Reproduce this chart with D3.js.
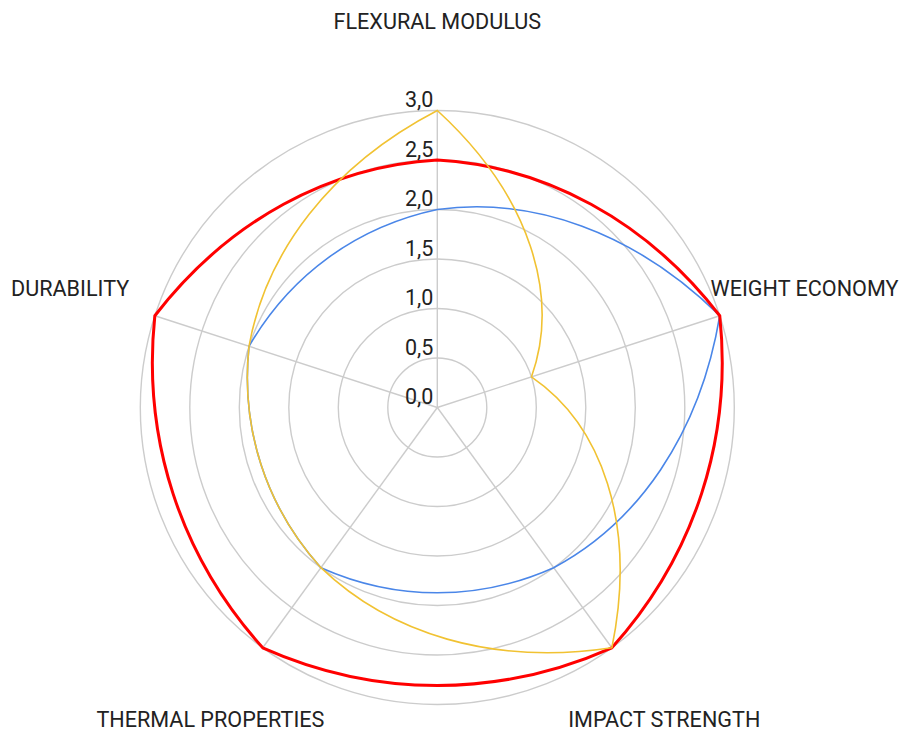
<!DOCTYPE html>
<html>
<head>
<meta charset="utf-8">
<script src="https://cdn.jsdelivr.net/npm/d3@7"></script>
<style>
  body { margin: 0; background: #fff; }
  svg { display: block; }
  text { font-family: Roboto, "Noto Sans", sans-serif; fill: #222; }
</style>
</head>
<body>
<svg id="chart" width="913" height="731"></svg>
<script>
const axes = ["FLEXURAL MODULUS", "WEIGHT ECONOMY", "IMPACT STRENGTH", "THERMAL PROPERTIES", "DURABILITY"]
const ticks = [0, 0.5, 1, 1.5, 2, 2.5, 3]
const blueValues = [2, 3, 2, 2, 2]
const redValues = [2.5, 3, 3, 3, 3]
const yellowValues = [3, 1, 3, 2, 2]

const series = [
  {name: "blue", values: blueValues, color: "#4a86e8", width: 1.6},
  {name: "red", values: redValues, color: "#ff0000", width: 3},
  {name: "yellow", values: yellowValues, color: "#f1c232", width: 1.6}
]

const width = 913, height = 731
const cx = 437.3, cy = 407.5
const R = 297

const svg = d3.select("svg#chart")
const g = svg.append("g").attr("transform", `translate(${cx},${cy})`)

const r = d3.scaleLinear().domain([0, 3]).range([0, R])
const angle = d3.scaleLinear().domain([0, axes.length]).range([0, 2 * Math.PI])
const step = angle(1) - angle(0)

const locale = d3.formatLocale({decimal: ",", thousands: ".", grouping: [3], currency: ["", "€"]})
const fmt = locale.format(".1f")

const pt = (a, rad) => [rad * Math.sin(a), -rad * Math.cos(a)]

// grid circles
g.append("g")
    .attr("fill", "none")
    .attr("stroke", "#cccccc")
    .attr("stroke-width", 1.4)
  .selectAll("circle")
  .data(ticks.filter(d => d > 0))
  .join("circle")
    .attr("r", d => r(d))

// spokes
g.append("g")
    .attr("stroke", "#cccccc")
    .attr("stroke-width", 1.4)
  .selectAll("line")
  .data(axes)
  .join("line")
    .attr("x1", 0).attr("y1", 0)
    .attr("x2", (d, i) => pt(angle(i), R)[0])
    .attr("y2", (d, i) => pt(angle(i), R)[1])

// each segment is a cubic whose control points sit on the polar interpolation
function polarPath(values) {
  const p = d3.path()
  const n = values.length
  for (let i = 0; i < n; i++) {
    const a1 = angle(i)
    const r1 = r(values[i]), r2 = r(values[(i + 1) % n])
    const p1 = pt(a1, r1)
    const c1 = pt(a1 + step / 3, r1 + (r2 - r1) / 3)
    const c2 = pt(a1 + 2 * step / 3, r1 + 2 * (r2 - r1) / 3)
    const p2 = pt(a1 + step, r2)
    if (i === 0) p.moveTo(p1[0], p1[1])
    p.bezierCurveTo(c1[0], c1[1], c2[0], c2[1], p2[0], p2[1])
  }
  p.closePath()
  return p.toString()
}

g.append("g")
    .attr("fill", "none")
  .selectAll("path")
  .data(series)
  .join("path")
    .attr("d", d => polarPath(d.values))
    .attr("stroke", d => d.color)
    .attr("stroke-width", d => d.width)
    .attr("stroke-linejoin", "miter")

// tick labels
g.append("g")
    .attr("font-size", 21.5)
    .attr("text-anchor", "end")
  .selectAll("text")
  .data(ticks)
  .join("text")
    .attr("x", -4)
    .attr("y", d => -r(d) - 3.5)
    .text(d => fmt(d))

// axis labels
g.append("g")
    .attr("font-size", 21.6)
    .attr("text-anchor", "middle")
    .attr("dominant-baseline", "central")
  .selectAll("text")
  .data(axes)
  .join("text")
    .attr("x", (d, i) => pt(angle(i), R * 1.3)[0])
    .attr("y", (d, i) => pt(angle(i), R * 1.3)[1])
    .text(d => d)
</script>
</body>
</html>
